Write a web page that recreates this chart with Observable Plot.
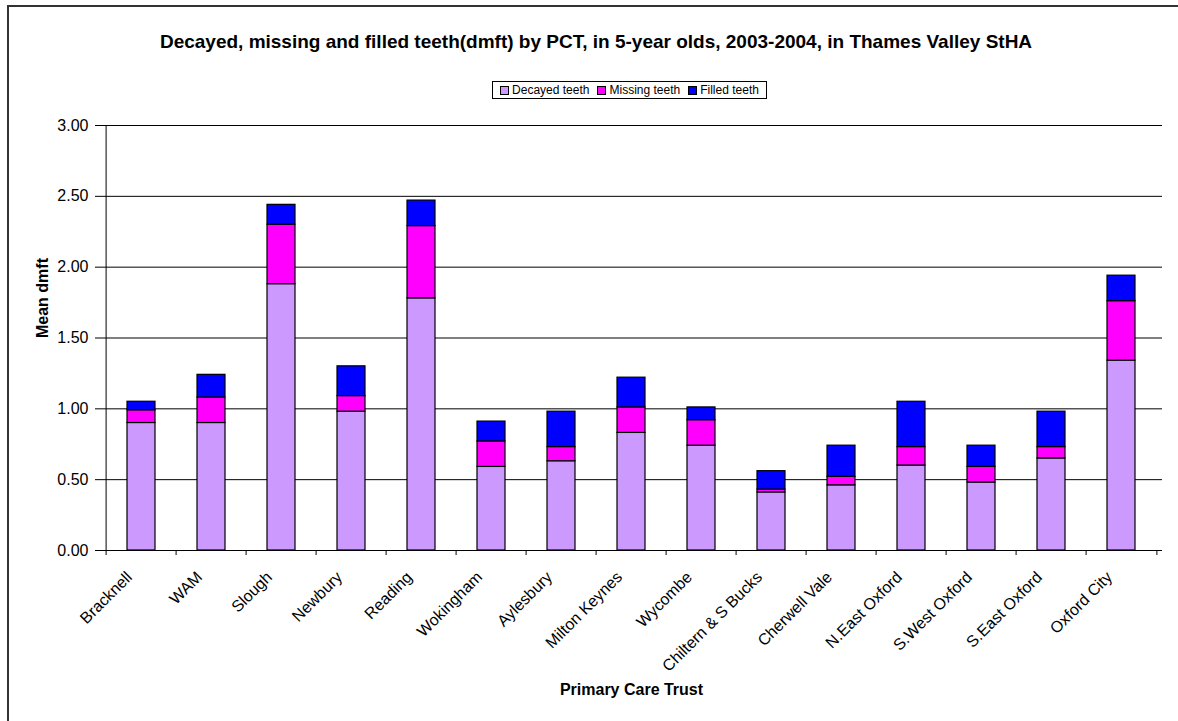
<!DOCTYPE html>
<html><head><meta charset="utf-8">
<script src="https://cdn.jsdelivr.net/npm/d3@7"></script>
<script src="https://cdn.jsdelivr.net/npm/@observablehq/plot@0.6"></script>
<style>
body{margin:0;overflow:hidden;font-family:"Liberation Sans",Arial,sans-serif;background:#fff;width:1178px;height:721px;position:relative}
#frame{position:absolute;left:7px;top:5px;width:1300px;height:900px;border-left:2px solid #333;border-top:2px solid #333;box-sizing:border-box;pointer-events:none}
#header{position:relative;height:105px}
#title{position:absolute;left:0;width:1192px;top:31px;text-align:center;font-weight:bold;font-size:19px;line-height:22px;color:#000;white-space:nowrap}
#legend{position:absolute;left:492px;top:81px;width:275px;height:18px;box-sizing:border-box;border:1px solid #000;display:flex;align-items:center;justify-content:center;font-size:12px;color:#000}
.item{display:flex;align-items:center;margin:0 4px}
.sw{width:9px;height:9px;box-sizing:border-box;border:1px solid #000;margin-right:3px}
#chart{position:relative}
</style></head>
<body>
<div id="frame"></div>
<div id="header">
  <div id="title"></div>
  <div id="legend"></div>
</div>
<div id="chart"></div>
<script>
const title = "Decayed, missing and filled teeth(dmft) by PCT, in 5-year olds, 2003-2004, in Thames Valley StHA";
const categories = ["Bracknell","WAM","Slough","Newbury","Reading","Wokingham","Aylesbury","Milton Keynes","Wycombe","Chiltern & S Bucks","Cherwell Vale","N.East Oxford","S.West Oxford","S.East Oxford","Oxford City"];
const seriesNames = ["Decayed teeth","Missing teeth","Filled teeth"];
const seriesColors = ["#CC99FF","#FF00FF","#0000FF"];
const decayed = [0.90,0.90,1.88,0.98,1.78,0.59,0.63,0.83,0.74,0.41,0.46,0.60,0.48,0.65,1.34];
const missing = [0.09,0.18,0.42,0.11,0.51,0.18,0.10,0.18,0.18,0.02,0.06,0.13,0.11,0.08,0.42];
const filled  = [0.06,0.16,0.14,0.21,0.18,0.14,0.25,0.21,0.09,0.13,0.22,0.32,0.15,0.25,0.18];
const yTicks = [0,0.5,1,1.5,2,2.5,3];
const yLabel = "Mean dmft";
const xLabel = "Primary Care Trust";

document.getElementById("title").textContent = title;
const leg = document.getElementById("legend");
seriesNames.forEach((s,i)=>{
  const it = document.createElement("div"); it.className="item";
  const sw = document.createElement("div"); sw.className="sw"; sw.style.background=seriesColors[i];
  const tx = document.createElement("span"); tx.textContent = s;
  it.appendChild(sw); it.appendChild(tx); leg.appendChild(it);
});

const rows = [];
const seriesValues = [decayed, missing, filled];
categories.forEach((c,i)=>{
  seriesNames.forEach((s,j)=>rows.push({pct:c, series:s, value:seriesValues[j][i]}));
});

const W = 1178, H = 616, mT = 20, mB = 171, mL = 100, mR = 16;
const step = (W - mL - mR) / categories.length;
const plotH = H - mT - mB;
const font = "'Liberation Sans', Arial, sans-serif";

const chart = Plot.plot({
  width: W, height: H,
  marginTop: mT, marginBottom: mB, marginLeft: mL, marginRight: mR,
  style: {background: "transparent", fontFamily: font, fontSize: "16px", color: "#000"},
  x: {domain: categories, paddingInner: 0.6, paddingOuter: 0.3, label: null},
  y: {domain: [0, 3], label: null},
  color: {domain: seriesNames, range: seriesColors},
  marks: [
    Plot.ruleY(yTicks, {stroke: "#000", strokeWidth: 1}),
    Plot.barY(rows, {x: "pct", y: "value", fill: "series", stroke: "#000", strokeWidth: 1.2}),
    Plot.ruleX([categories[0]], {x: d => d, dx: -step/2, stroke: "#000"}),
    Plot.ruleX(categories, {x: d => d, dx: -step/2, insetTop: plotH, insetBottom: -5, stroke: "#000"}),
    Plot.ruleX([categories[categories.length-1]], {x: d => d, dx: step/2, insetTop: plotH, insetBottom: -5, stroke: "#000"}),
    Plot.axisY({ticks: yTicks, tickFormat: d => d.toFixed(2), tickSize: 5, tickPadding: 7, label: null}),
    Plot.axisX({tickRotate: -45, tickSize: 0, tickPadding: 12, dx: -12, dy: 12, label: null}),
    Plot.text([yLabel], {text: d => d, frameAnchor: "left", rotate: -90, dx: -58, fontWeight: "bold", fontSize: 16}),
    Plot.text([xLabel], {text: d => d, frameAnchor: "bottom", dy: 144, fontWeight: "bold", fontSize: 16})
  ]
});
document.getElementById("chart").appendChild(chart);
</script>
</body></html>
